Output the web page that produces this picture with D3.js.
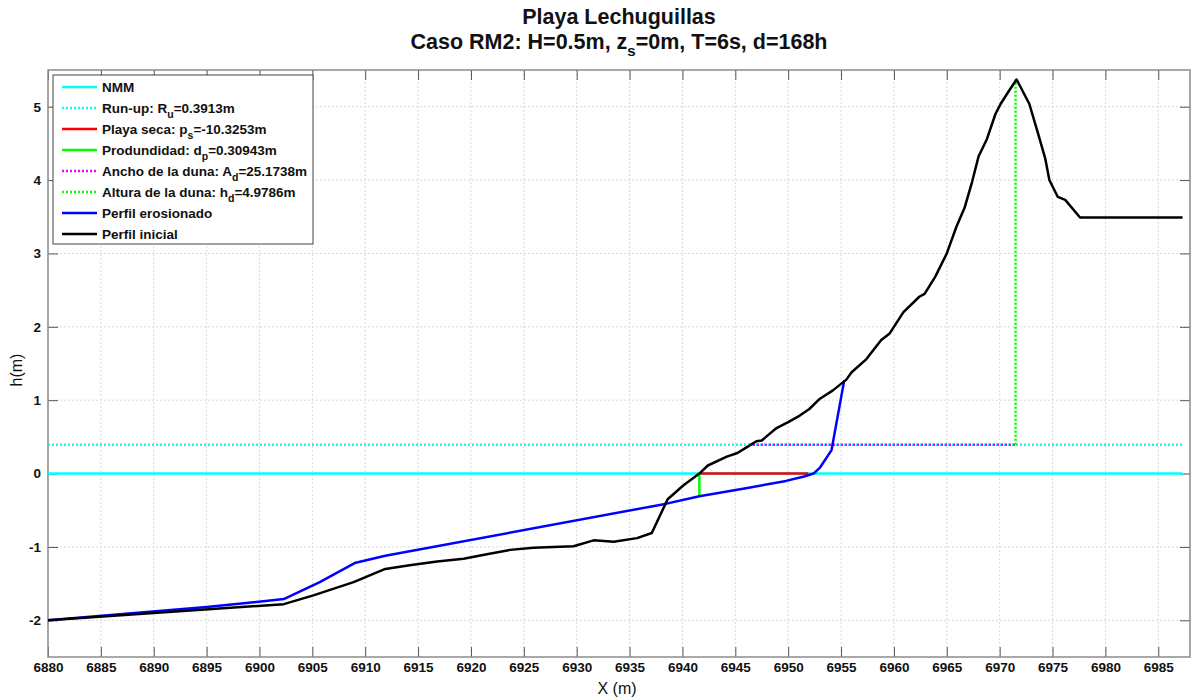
<!DOCTYPE html>
<html>
<head>
<meta charset="utf-8">
<script src="https://cdn.jsdelivr.net/npm/d3@7"></script>
<style>
  body { margin: 0; background: #fff; }
  text { font-family: "Liberation Sans", Arial, sans-serif; }
</style>
</head>
<body>
<div id="chart"></div>
<script>
// perfil inicial (black)
const xInicial = [6880, 6902.3, 6905.1, 6908.9, 6911.9, 6914.2, 6916.8, 6919.3, 6921.5, 6923.7, 6925.9, 6929.7, 6931.6, 6933.5, 6935.7, 6937.1, 6938.6, 6940.1, 6941.6, 6942.4, 6944.2, 6945.2, 6946.1, 6947.0, 6947.5, 6947.9, 6948.9, 6950.0, 6951.1, 6952.0, 6953.0, 6954.2, 6955.5, 6956.0, 6957.4, 6958.8, 6959.6, 6960.9, 6962.4, 6962.9, 6963.9, 6965.0, 6965.9, 6966.7, 6967.4, 6968.0, 6968.8, 6969.6, 6970.1, 6970.9, 6971.6, 6972.8, 6973.6, 6974.3, 6974.7, 6975.5, 6976.2, 6977.6, 6987.3];
const yInicial = [-2.00, -1.78, -1.66, -1.48, -1.30, -1.25, -1.20, -1.16, -1.10, -1.04, -1.01, -0.99, -0.91, -0.93, -0.88, -0.81, -0.35, -0.16, 0.00, 0.11, 0.23, 0.28, 0.36, 0.44, 0.45, 0.50, 0.62, 0.70, 0.79, 0.88, 1.02, 1.13, 1.28, 1.38, 1.56, 1.82, 1.91, 2.20, 2.41, 2.45, 2.68, 3.00, 3.36, 3.63, 3.98, 4.32, 4.56, 4.90, 5.04, 5.22, 5.37, 5.04, 4.65, 4.30, 4.00, 3.77, 3.73, 3.49, 3.49];

// perfil erosionado (blue)
const xErosion = [6880, 6895, 6899, 6902.3, 6905.7, 6909.0, 6911.9, 6938.5, 6941.6, 6946.0, 6949.8, 6951.5, 6952.4, 6953.0, 6954.1, 6955.3];
const yErosion = [-2.00, -1.82, -1.76, -1.71, -1.48, -1.22, -1.12, -0.41, -0.31, -0.20, -0.10, -0.04, 0.00, 0.08, 0.32, 1.27];

// indicadores
const nmm = 0;
const runUp = 0.3913;
const playaSeca = [6941.6, 6951.9];        // x range at h=0
const profundidad = [6941.6, 0, -0.30943]; // x, y top, y bottom
const anchoDuna = [6946.3, 6971.5];        // x range at h=Ru
const alturaDuna = [6971.5, runUp, 5.37];  // x, y bottom, y top

const xTicks = d3.range(6880, 6986, 5);
const yTicks = [-2, -1, 0, 1, 2, 3, 4, 5];

const legendItems = [
  { color: "#00ffff", dash: null, parts: [["NMM"]] },
  { color: "#00ffff", dash: "2,2", parts: [["Run-up: R"], ["u", "sub"], ["=0.3913m"]] },
  { color: "#ff0000", dash: null, parts: [["Playa seca: p"], ["s", "sub"], ["=-10.3253m"]] },
  { color: "#00ff00", dash: null, parts: [["Produndidad: d"], ["p", "sub"], ["=0.30943m"]] },
  { color: "#ff00ff", dash: "2,2", parts: [["Ancho de la duna: A"], ["d", "sub"], ["=25.1738m"]] },
  { color: "#00ff00", dash: "2,2", parts: [["Altura de la duna: h"], ["d", "sub"], ["=4.9786m"]] },
  { color: "#0000ff", dash: null, parts: [["Perfil erosionado"]] },
  { color: "#000000", dash: null, parts: [["Perfil inicial"]] }
];

const W = 1194, H = 700;
const pL = 48, pR = 1190, pT = 70, pB = 657;

const svg = d3.select("#chart").append("svg")
  .attr("width", W).attr("height", H);

const x = d3.scaleLinear().domain([6880, 6988]).range([pL, pR]);
const y = d3.scaleLinear().domain([-2.5, 5.5]).range([pB, pT]);

// grid
svg.append("g").selectAll("line").data(xTicks).enter().append("line")
  .attr("x1", d => x(d)).attr("x2", d => x(d))
  .attr("y1", pT).attr("y2", pB)
  .attr("stroke", "#d9d9d9").attr("stroke-dasharray", "2,2");
svg.append("g").selectAll("line").data(yTicks).enter().append("line")
  .attr("y1", d => y(d)).attr("y2", d => y(d))
  .attr("x1", pL).attr("x2", pR)
  .attr("stroke", "#d9d9d9").attr("stroke-dasharray", "2,2");

// axes
const tickLen = 10;
const fmt = d => String(d);
const xAxisB = d3.axisBottom(x).tickValues(xTicks).tickSizeInner(-tickLen).tickSizeOuter(0).tickPadding(5).tickFormat(fmt);
const xAxisT = d3.axisTop(x).tickValues(xTicks).tickSizeInner(-tickLen).tickSizeOuter(0).tickFormat("");
const yAxisL = d3.axisLeft(y).tickValues(yTicks).tickSizeInner(-tickLen).tickSizeOuter(0).tickPadding(7).tickFormat(fmt);
const yAxisR = d3.axisRight(y).tickValues(yTicks).tickSizeInner(-tickLen).tickSizeOuter(0).tickFormat("");

function styleAxis(g) {
  g.select(".domain").remove();
  g.selectAll(".tick line").attr("stroke", "#555").attr("stroke-width", 1);
  g.selectAll("text").attr("font-size", 13.5).attr("font-weight", "bold").attr("fill", "#111");
}
svg.append("g").attr("transform", `translate(0,${pB})`).call(xAxisB).call(styleAxis);
svg.append("g").attr("transform", `translate(0,${pT})`).call(xAxisT).call(styleAxis);
svg.append("g").attr("transform", `translate(${pL},0)`).call(yAxisL).call(styleAxis);
svg.append("g").attr("transform", `translate(${pR},0)`).call(yAxisR).call(styleAxis);

svg.append("rect")
  .attr("x", pL).attr("y", pT)
  .attr("width", pR - pL).attr("height", pB - pT)
  .attr("fill", "none").attr("stroke", "#8c8c8c").attr("stroke-width", 1.5);

// lines
const line = d3.line().x(d => x(d[0])).y(d => y(d[1]));
const plot = svg.append("g");

function seg(pts, color, width, dash) {
  plot.append("path").datum(pts)
    .attr("d", line).attr("fill", "none")
    .attr("stroke", color).attr("stroke-width", width)
    .attr("stroke-dasharray", dash)
    .attr("stroke-linejoin", "round");
}

seg([[6880, nmm], [6987.3, nmm]], "#00ffff", 2.5, null);
seg([[6880, runUp], [6987.3, runUp]], "#00ffff", 2.5, "2,2");
seg([[playaSeca[0], 0], [playaSeca[1], 0]], "#ff0000", 2.5, null);
seg([[profundidad[0], profundidad[1]], [profundidad[0], profundidad[2]]], "#00ff00", 2.5, null);
seg([[anchoDuna[0], runUp], [anchoDuna[1], runUp]], "#ff00ff", 2.5, "2,2");
seg([[alturaDuna[0], alturaDuna[1]], [alturaDuna[0], alturaDuna[2]]], "#00ff00", 2.5, "2,2");
seg(d3.zip(xErosion, yErosion), "#0000ff", 2.5, null);
seg(d3.zip(xInicial, yInicial), "#000000", 2.5, null);

// legend
const lg = svg.append("g");
const lgX = 53, lgY = 75, lgW = 260, lgH = 169, rowH = 21;
lg.append("rect").attr("x", lgX).attr("y", lgY).attr("width", lgW).attr("height", lgH)
  .attr("fill", "#fff").attr("stroke", "#444").attr("stroke-width", 1);
legendItems.forEach((it, i) => {
  const cy = lgY + 12 + i * rowH;
  lg.append("line").attr("x1", lgX + 9).attr("x2", lgX + 44)
    .attr("y1", cy).attr("y2", cy)
    .attr("stroke", it.color).attr("stroke-width", 2.5)
    .attr("stroke-dasharray", it.dash);
  const t = lg.append("text").attr("x", lgX + 49).attr("y", cy + 5)
    .attr("font-size", 13.5).attr("font-weight", "bold").attr("fill", "#111");
  it.parts.forEach((p, j) => {
    const ts = t.append("tspan").text(p[0]);
    if (p[1] === "sub") ts.attr("font-size", 10.5).attr("dy", 5);
    else if (j > 0) ts.attr("dy", -5);
  });
});

// title
const title = svg.append("g").attr("fill", "#111");
title.append("text").attr("x", 619).attr("y", 24).attr("text-anchor", "middle")
  .attr("font-size", 21.5).attr("font-weight", "bold").text("Playa Lechuguillas");
const t2 = title.append("text").attr("x", 619).attr("y", 49).attr("text-anchor", "middle")
  .attr("font-size", 21.5).attr("font-weight", "bold");
t2.append("tspan").text("Caso RM2: H=0.5m, z");
t2.append("tspan").text("s").attr("font-size", 15).attr("dy", 7);
t2.append("tspan").text("=0m, T=6s, d=168h").attr("dy", -7);

// axis titles
svg.append("text").attr("x", 617).attr("y", 694).attr("text-anchor", "middle")
  .attr("font-size", 16).attr("fill", "#111").text("X (m)");
svg.append("text").attr("transform", "translate(22,370) rotate(-90)")
  .attr("text-anchor", "middle").attr("font-size", 16).attr("fill", "#111").text("h(m)");
</script>
</body>
</html>
